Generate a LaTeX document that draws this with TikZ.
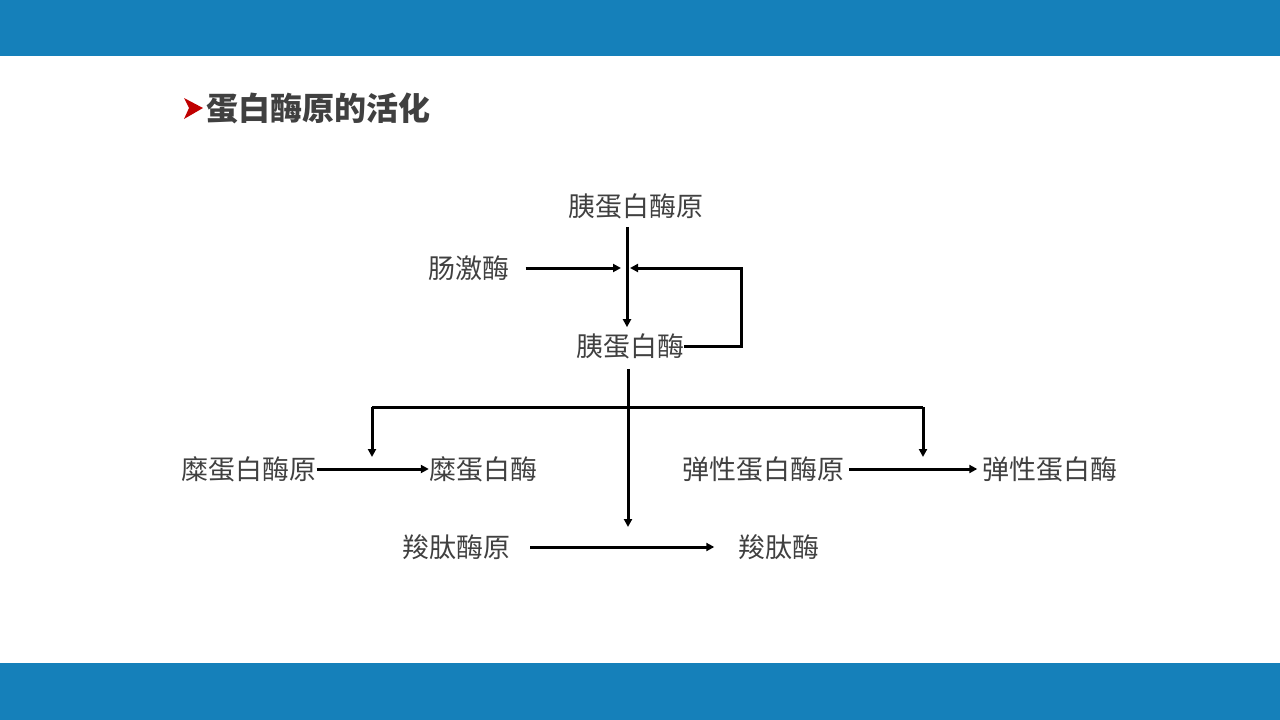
\documentclass[tikz,border=0pt]{standalone}
\usepackage{fontspec}
\newfontfamily\cjk{Noto Sans CJK SC}
\usetikzlibrary{positioning, arrows.meta}

\definecolor{barblue}{HTML}{1580BA}
\definecolor{txtgray}{HTML}{404040}
\definecolor{tipred}{HTML}{C00000}

\begin{document}
\begin{tikzpicture}[x=1pt, y=-1pt,
		lbl/.style={inner sep=0pt, text=txtgray, font=\cjk\fontsize{27}{32}\selectfont},
		arr/.style={-{Triangle[length=8pt, width=8pt]}, line width=3pt},
		ln/.style={line width=3pt}]
			\useasboundingbox (0,0) rectangle (1280,720);
			\fill[barblue] (0,0) rectangle (1280,56);
			\fill[barblue] (0,663) rectangle (1280,720);
			
			% title
			\fill[tipred] (184,98) -- (203,108) -- (184,119) -- (189,108) -- cycle;
			\node[anchor=west, inner sep=0pt, text=txtgray, font=\cjk\bfseries\fontsize{32}{38}\selectfont] (ttl) at (206,108) {蛋白酶原的活化};
			
			\node[lbl] (pg) at (636,206) {胰蛋白酶原};
			\node[lbl] (ek) at (469,268) {肠激酶};
			\node[lbl] (tr) at (630,346) {胰蛋白酶};
			\node[lbl] (cg) at (249,469) {糜蛋白酶原};
			\node[lbl] (ct) at (483,469) {糜蛋白酶};
			\node[lbl] (eg) at (763,469) {弹性蛋白酶原};
			\node[lbl] (el) at (1050,469) {弹性蛋白酶};
			\node[lbl] (pc) at (456,547) {羧肽酶原};
			\node[lbl] (cp) at (779,547) {羧肽酶};
			
			\coordinate (j1) at (627,268);
			\coordinate (fb) at (741,346);
			\coordinate (br) at (628,407);
			\coordinate (bl) at (372,407);
			\coordinate (bR) at (923,407);
			
			\draw[arr, shorten <=8pt, shorten >=6pt] (pg.south -| j1) -- (tr.north -| j1);
			\draw[arr, shorten <=16pt, shorten >=6pt] (ek.east) -- (j1 |- ek.east);
			\draw[arr, shorten >=3pt] (tr.east) -- (fb) |- (j1);
			
			\draw[arr, shorten <=10pt, shorten >=20pt] (tr.south -| br) -- (pc -| br);
			\draw[ln] (bl) -- (bR);
			\draw[arr, shorten >=12pt] (bl) -- (bl |- cg);
			\draw[arr, shorten >=12pt] (bR) -- (bR |- eg);
			
			\draw[arr] (cg.east) -- (ct.west);
			\draw[arr, shorten <=5pt, shorten >=5pt] (eg.east) -- (el.west);
			\draw[arr, shorten <=20pt, shorten >=24pt] (pc.east) -- (cp.west);
\end{tikzpicture}
\end{document}
